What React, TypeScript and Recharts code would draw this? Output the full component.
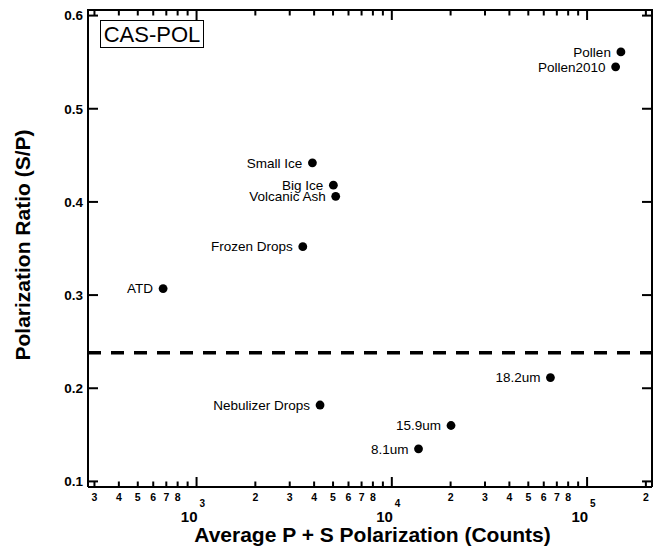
import React from 'react';
import { ScatterChart, Scatter, XAxis, YAxis, ReferenceLine } from 'recharts';

// ---- data ----
const sampleNames = [
  'Pollen', 'Pollen2010', 'Small Ice', 'Big Ice', 'Volcanic Ash', 'Frozen Drops',
  'ATD', 'Nebulizer Drops', '18.2um', '15.9um', '8.1um',
];
const avgCounts = [149000, 140000, 3920, 5020, 5160, 3500, 674, 4290, 64900, 20100, 13700];
const polRatio = [0.561, 0.545, 0.442, 0.418, 0.406, 0.352, 0.307, 0.182, 0.2115, 0.160, 0.135];
const thresholdRatio = 0.238;

const xDomain: [number, number] = [278, 215000];
const yDomain: [number, number] = [0.094, 0.606];

const xTicks = [
  300, 400, 500, 600, 700, 800, 900,
  1000, 2000, 3000, 4000, 5000, 6000, 7000, 8000, 9000,
  10000, 20000, 30000, 40000, 50000, 60000, 70000, 80000, 90000,
  100000, 200000,
];
const xTickLabels = [
  '3', '4', '5', '6', '7', '8', '',
  '10^3', '2', '3', '4', '5', '6', '7', '8', '',
  '10^4', '2', '3', '4', '5', '6', '7', '8', '',
  '10^5', '2',
];
const yTicks = [0.1, 0.2, 0.3, 0.4, 0.5, 0.6];
const yTickLabels = ['0.1', '0.2', '0.3', '0.4', '0.5', '0.6'];

const xTitle = 'Average P + S Polarization (Counts)';
const yTitle = 'Polarization Ratio (S/P)';
const boxLabel = 'CAS-POL';

const points = sampleNames.map((name, i) => ({ name, x: avgCounts[i], y: polRatio[i] }));

// ---- layout ----
const W = 657;
const H = 548;
const PLOT_LEFT = 88;
const PLOT_RIGHT = 652;
const PLOT_TOP = 10;
const PLOT_BOTTOM = 487;
const FONT = '"Liberation Sans", Arial, Helvetica, sans-serif';
const TICK_COLOR = '#000';

const XTick = (props: any) => {
  const { x, y, payload } = props;
  const idx = xTicks.indexOf(payload.value);
  const label = idx >= 0 ? xTickLabels[idx] : '';
  const major = label.startsWith('10^');
  const len = major ? 10 : 5.5;
  return (
    <g>
      <path d={`M${x},${y}L${x},${y - len}`} stroke={TICK_COLOR} strokeWidth={2} fill="none" />
      <path d={`M${x},${PLOT_TOP}L${x},${PLOT_TOP + len}`} stroke={TICK_COLOR} strokeWidth={2} fill="none" />
      {major ? (
        <g fontFamily={FONT} fontWeight="bold" fill="#000">
          <text x={x + 1} y={y + 35} textAnchor="end" fontSize={15}>10</text>
          <text x={x + 3} y={y + 20} textAnchor="start" fontSize={10}>{label.slice(3)}</text>
        </g>
      ) : label ? (
        <text x={x} y={y + 14} textAnchor="middle" fontSize={10.5} fontWeight="bold" fontFamily={FONT} fill="#000">
          {label}
        </text>
      ) : null}
    </g>
  );
};

const YTick = (props: any) => {
  const { x, y, payload } = props;
  const idx = yTicks.indexOf(payload.value);
  const label = idx >= 0 ? yTickLabels[idx] : '';
  return (
    <g>
      <path d={`M${x},${y}L${x + 10},${y}`} stroke={TICK_COLOR} strokeWidth={2} fill="none" />
      <path d={`M${PLOT_RIGHT},${y}L${PLOT_RIGHT - 10},${y}`} stroke={TICK_COLOR} strokeWidth={2} fill="none" />
      <text x={x - 5} y={y} dy="0.36em" textAnchor="end" fontSize={13.5} fontWeight="bold" fontFamily={FONT} fill="#000">
        {label}
      </text>
    </g>
  );
};

const renderPoint = (props: any) => {
  const { cx, cy, payload } = props;
  return (
    <g>
      <circle cx={cx} cy={cy} r={4.4} fill="#000" />
      <text x={cx - 10} y={cy} dy="0.35em" textAnchor="end" fontSize={13.5} fontFamily={FONT} fill="#000">
        {payload.name}
      </text>
    </g>
  );
};

export default function App() {
  return (
    <div style={{ position: 'absolute', left: 0, top: 0, width: W, height: H, background: '#fff' }}>
      <ScatterChart
        width={W}
        height={H}
        margin={{ top: PLOT_TOP, right: W - PLOT_RIGHT, left: 0, bottom: 0 }}
      >
        <XAxis
          type="number"
          dataKey="x"
          scale="log"
          domain={xDomain}
          allowDataOverflow
          ticks={xTicks}
          interval={0}
          tick={<XTick />}
          tickLine={false}
          axisLine={{ stroke: '#000', strokeWidth: 2 }}
          tickSize={0}
          tickMargin={0}
          height={H - PLOT_BOTTOM}
        />
        <YAxis
          type="number"
          dataKey="y"
          domain={yDomain}
          allowDataOverflow
          ticks={yTicks}
          interval={0}
          tick={<YTick />}
          tickLine={false}
          axisLine={{ stroke: '#000', strokeWidth: 2 }}
          tickSize={0}
          tickMargin={0}
          width={PLOT_LEFT}
        />
        <ReferenceLine y={thresholdRatio} stroke="#000" strokeWidth={3.5} strokeDasharray="13 10" />
        <Scatter data={points} shape={renderPoint} isAnimationActive={false} />
      </ScatterChart>
      <svg
        width={W}
        height={H}
        style={{ position: 'absolute', left: 0, top: 0, pointerEvents: 'none' }}
      >
        <line x1={PLOT_LEFT - 1} x2={PLOT_RIGHT + 1} y1={PLOT_TOP} y2={PLOT_TOP} stroke="#000" strokeWidth={2} />
        <line x1={PLOT_RIGHT} x2={PLOT_RIGHT} y1={PLOT_TOP} y2={PLOT_BOTTOM} stroke="#000" strokeWidth={2} />
        <rect x={100.5} y={20.5} width={103} height={27} fill="#fff" stroke="#000" strokeWidth={1} />
        <text x={152} y={42} textAnchor="middle" fontSize={22} fontFamily={FONT} fill="#000">
          {boxLabel}
        </text>
        <text x={372.5} y={541.5} textAnchor="middle" fontSize={21} fontWeight="bold" fontFamily={FONT} fill="#000">
          {xTitle}
        </text>
        <text
          transform="translate(30,245) rotate(-90)"
          textAnchor="middle"
          fontSize={21}
          fontWeight="bold"
          fontFamily={FONT}
          fill="#000"
        >
          {yTitle}
        </text>
      </svg>
    </div>
  );
}
